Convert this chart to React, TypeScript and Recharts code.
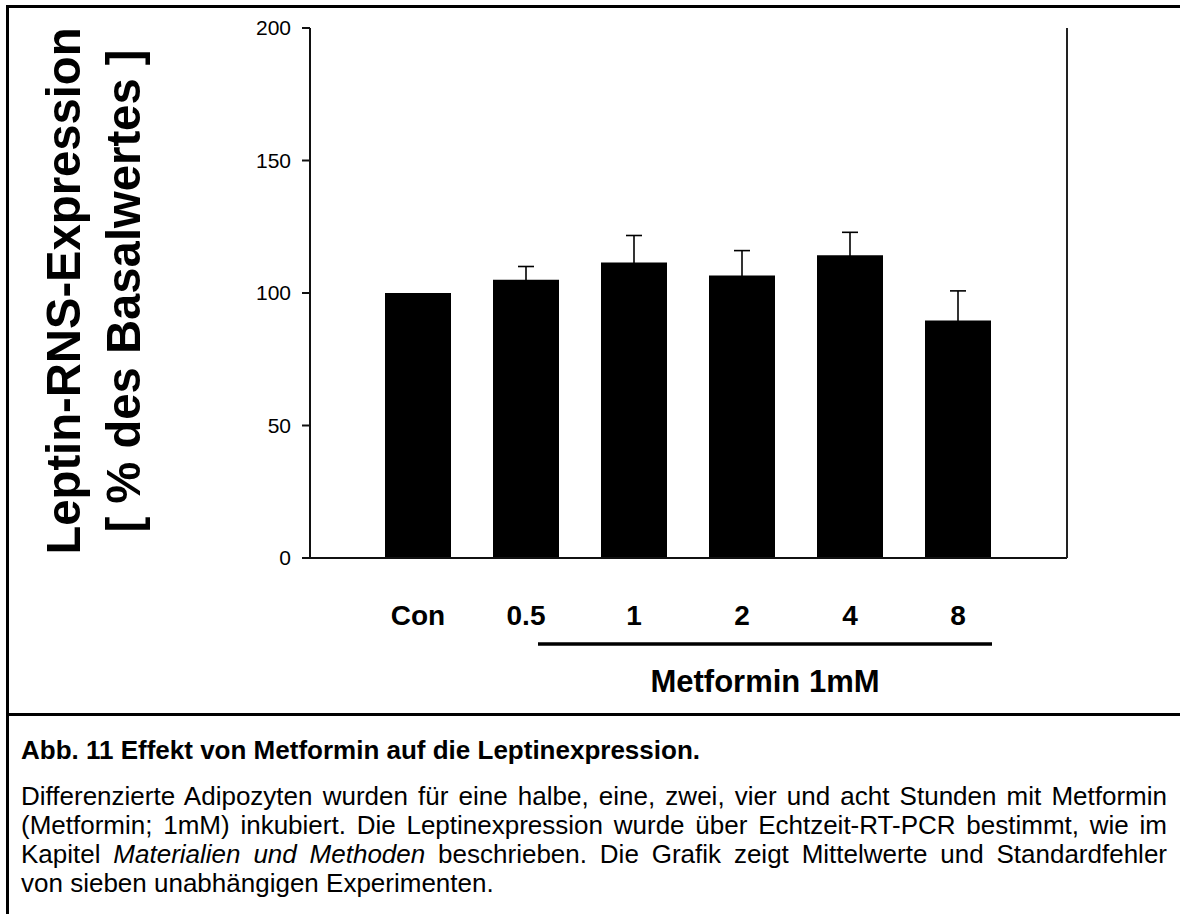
import { Bar, BarChart, ErrorBar, XAxis, YAxis } from "recharts";

const groups = ["Con", "0.5", "1", "2", "4", "8"];
const expression = [100, 105, 111.5, 106.6, 114.2, 89.6];
const stdError = [0, 5, 10.2, 9.4, 8.7, 11.2];
const yTicks = [0, 50, 100, 150, 200];

const rows = groups.map((group, i) => ({
    group,
    value: expression[i],
    err: stdError[i],
}));

const FONT = "'Liberation Sans', Arial, Helvetica, sans-serif";

function GroupTick({ x, y, payload }: any) {
    return (
        <text
            x={x}
            y={y + 67}
            textAnchor="middle"
            fontFamily={FONT}
            fontSize={28}
            fontWeight={700}
            fill="#000"
        >
            {payload.value}
        </text>
    );
}

// bracket under the treated groups plus its caption
function TreatmentLabel({ viewBox }: any) {
    const vb = viewBox ?? { x: 310, y: 558 };
    const x1 = vb.x + 228;
    const x2 = vb.x + 682;
    return (
        <g>
            <line x1={x1} x2={x2} y1={vb.y + 86} y2={vb.y + 86} stroke="#000" strokeWidth={3.5} />
            <text
                x={(x1 + x2) / 2}
                y={vb.y + 134}
                textAnchor="middle"
                fontFamily={FONT}
                fontSize={31}
                fontWeight={700}
                fill="#000"
            >
                Metformin 1mM
            </text>
        </g>
    );
}

function YTitle({ viewBox }: any) {
    const vb = viewBox ?? { y: 28, height: 530 };
    const cy = vb.y + vb.height / 2 - 2;
    return (
        <g fontFamily={FONT} fontWeight={700} fontSize={49} fill="#000">
            <text
                transform={`translate(80, ${cy}) rotate(-90)`}
                textAnchor="middle"
                textLength={527}
                lengthAdjust="spacingAndGlyphs"
            >
                Leptin-RNS-Expression
            </text>
            <text
                transform={`translate(140, ${cy}) rotate(-90)`}
                textAnchor="middle"
                textLength={483}
                lengthAdjust="spacingAndGlyphs"
            >
                [ % des Basalwertes ]
            </text>
        </g>
    );
}

const captionLine = {
    position: "absolute" as const,
    left: 21,
    width: 1146,
    fontSize: 26,
    lineHeight: "29px",
    textAlign: "justify" as const,
    textAlignLast: "justify" as const,
};

export default function App() {
    return (
        <div
            style={{
                position: "absolute",
                left: 0,
                top: 0,
                width: 1180,
                height: 914,
                background: "#fff",
                overflow: "hidden",
                fontFamily: FONT,
                color: "#000",
            }}
        >
            <div
                style={{
                    position: "absolute",
                    left: 6,
                    top: 5,
                    width: 1180,
                    height: 914,
                    borderLeft: "3px solid #000",
                    borderTop: "3px solid #000",
                }}
            />
            <div
                style={{ position: "absolute", left: 6, top: 713, width: 1180, height: 3, background: "#000" }}
            />
            <div style={{ position: "absolute", left: 0, top: 0 }}>
                <BarChart
                    width={1180}
                    height={712}
                    data={rows}
                    margin={{ top: 28, right: 112, bottom: 0, left: 0 }}
                    barSize={66}
                >
                    <XAxis
                        dataKey="group"
                        height={154}
                        interval={0}
                        padding={{ left: 54, right: 55 }}
                        axisLine={{ stroke: "#111", strokeWidth: 2 }}
                        tickLine={false}
                        tickSize={0}
                        tickMargin={0}
                        tick={<GroupTick />}
                        label={<TreatmentLabel />}
                    />
                    <YAxis
                        yAxisId="left"
                        width={310}
                        domain={[0, 200]}
                        ticks={yTicks}
                        interval={0}
                        axisLine={{ stroke: "#111", strokeWidth: 2 }}
                        tickLine={{ stroke: "#111", strokeWidth: 2 }}
                        tickSize={8}
                        tickMargin={11}
                        tick={{ fill: "#000", fontSize: 21, fontFamily: FONT }}
                        label={<YTitle />}
                    />
                    <YAxis
                        yAxisId="right"
                        orientation="right"
                        width={1}
                        domain={[0, 200]}
                        tick={false}
                        tickLine={false}
                        axisLine={{ stroke: "#222", strokeWidth: 2 }}
                    />
                    <Bar yAxisId="left" dataKey="value" fill="#000" isAnimationActive={false}>
                        <ErrorBar
                            dataKey="err"
                            direction="y"
                            width={8}
                            stroke="#000"
                            strokeWidth={1.6}
                            isAnimationActive={false}
                        />
                    </Bar>
                </BarChart>
            </div>

            <div style={{ position: "absolute", left: 21, top: 736, fontSize: 26, fontWeight: 700, lineHeight: "29px" }}>
                Abb. 11 Effekt von Metformin auf die Leptinexpression.
            </div>
            <div style={{ ...captionLine, top: 782 }}>
                Differenzierte Adipozyten wurden für eine halbe, eine, zwei, vier und acht Stunden mit Metformin
            </div>
            <div style={{ ...captionLine, top: 811 }}>
                (Metformin; 1mM) inkubiert. Die Leptinexpression wurde über Echtzeit-RT-PCR bestimmt, wie im
            </div>
            <div style={{ ...captionLine, top: 840 }}>
                Kapitel <i>Materialien und Methoden</i> beschrieben. Die Grafik zeigt Mittelwerte und Standardfehler
            </div>
            <div style={{ ...captionLine, top: 869, textAlignLast: "left" }}>
                von sieben unabhängigen Experimenten.
            </div>
        </div>
    );
}
